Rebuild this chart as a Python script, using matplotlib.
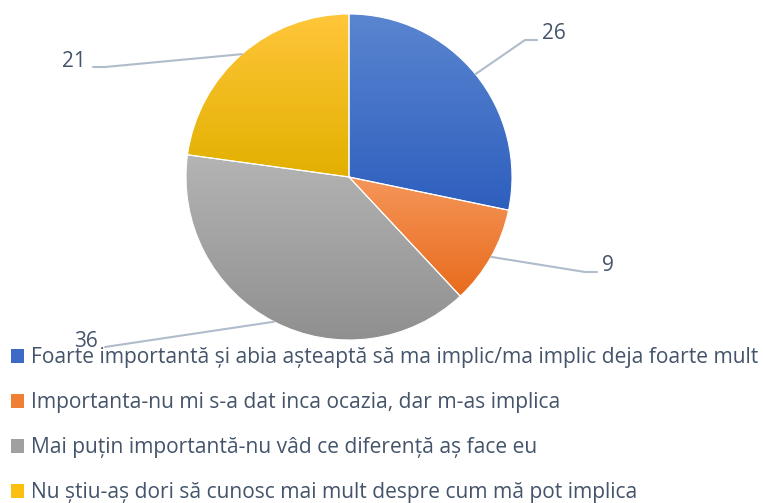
import numpy as np
import matplotlib
matplotlib.use("Agg")
from matplotlib import pyplot as plt
from matplotlib.patches import Patch
from matplotlib.colors import LinearSegmentedColormap

# survey answers
labels = [
    "Foarte importantă și abia așteaptă să ma implic/ma implic deja foarte mult",
    "Importanta-nu mi s-a dat inca ocazia, dar m-as implica",
    "Mai puțin importantă-nu vâd ce diferență aș face eu",
    "Nu știu-aș dori să cunosc mai mult despre cum mă pot implica",
]
counts = [26, 9, 36, 21]

# gradient colors (top, bottom) for each slice
grad_top = ["#5a85d0", "#f5965a", "#b4b4b4", "#ffc63a"]
grad_bot = ["#2e5fbe", "#e86b1c", "#8f8f8f", "#e2b000"]
legend_col = ["#3d6ac7", "#f07f36", "#a0a0a0", "#fbbf10"]

# leader line elbows / ends for the value labels (pixels from top-left)
label_elbow = [(525, 40), (585, 272), (105, 347), (105, 67)]
label_end = [(537, 40), (597, 272), (105, 347), (93, 67)]

text_col = "#44546a"
line_col = "#b0bccb"
W, H = 763, 503

fig = plt.figure(figsize=(W / 100, H / 100), dpi=100)
ax = fig.add_axes([0, 0, 1, 1])

cx, cy, r = 349, H - 177, 163
wedges, _ = ax.pie(counts, startangle=90, counterclock=False, center=(cx, cy),
                   radius=r, frame=True,
                   wedgeprops=dict(linewidth=0.8, edgecolor="white"))
ax.set_xlim(0, W)
ax.set_ylim(0, H)
ax.set_aspect("equal")
ax.axis("off")

for i, w in enumerate(wedges):
    w.set_facecolor("none")
    ys = w.get_path().vertices[:, 1]
    y0, y1 = ys.min(), ys.max()
    cmap = LinearSegmentedColormap.from_list("g%d" % i, [grad_bot[i], grad_top[i]])
    grad = np.linspace(0, 1, 256).reshape(-1, 1)
    im = ax.imshow(grad, cmap=cmap, origin="lower", aspect="auto",
                   extent=(cx - r, cx + r, y0, y1), zorder=0)
    im.set_clip_path(w)

    # leader line + value label
    ang = np.deg2rad((w.theta1 + w.theta2) / 2)
    px, py = cx + r * np.cos(ang), cy + r * np.sin(ang)
    ex, ey = label_elbow[i]
    tx, ty = label_end[i]
    ax.plot([px, ex, tx], [py, H - ey, H - ty], color=line_col, lw=1.5,
            solid_capstyle="round", zorder=1)
    if tx > cx:
        ax.text(tx + 5, H - ty + 1, str(counts[i]), ha="left", va="baseline",
                fontsize=15, color=text_col, family="Open Sans")
    else:
        ax.text(tx - 7, H - ty, str(counts[i]), ha="right", va="baseline",
                fontsize=15, color=text_col, family="Open Sans")

handles = [Patch(facecolor=c, edgecolor="none") for c in legend_col]
leg = ax.legend(handles, labels, loc="upper left", bbox_to_anchor=(11 / W, 1 - 347 / H),
                frameon=False, prop=dict(family="Open Sans", size=15.1),
                handlelength=0.64, handleheight=0.64, handletextpad=0.3,
                labelspacing=1.15, borderpad=0, borderaxespad=0)
for t in leg.get_texts():
    t.set_color(text_col)

fig.savefig("out.png", dpi=100)
